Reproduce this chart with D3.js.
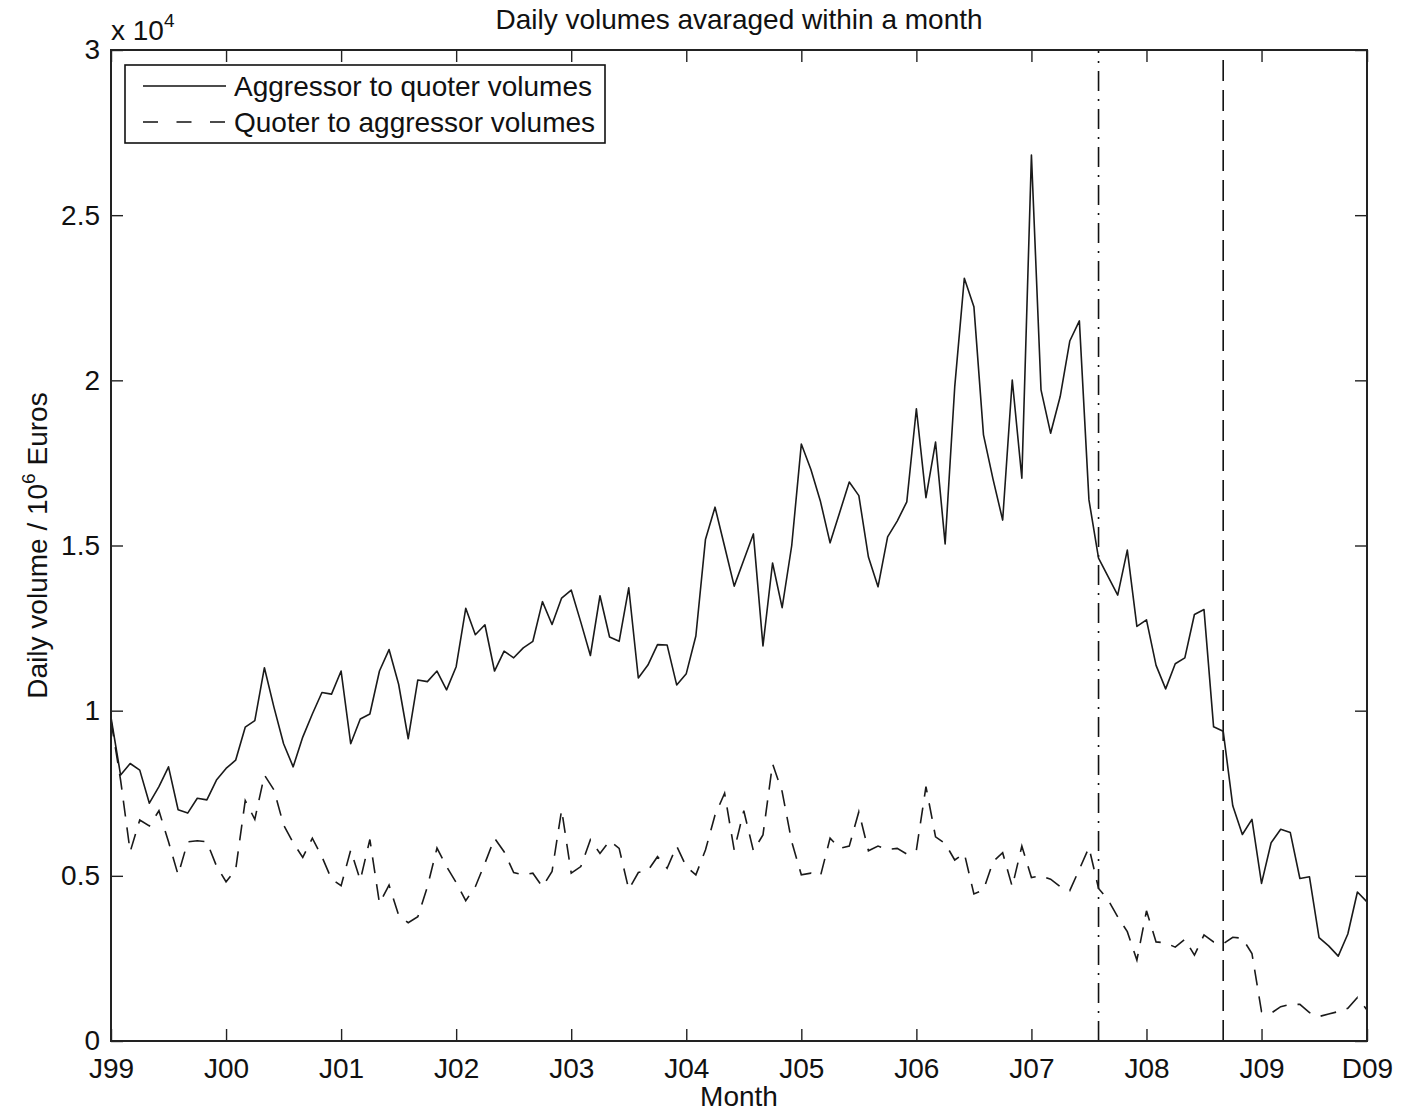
<!DOCTYPE html>
<html>
<head>
<meta charset="utf-8">
<title>Daily volumes averaged within a month</title>
<script src="https://cdn.jsdelivr.net/npm/d3@7"></script>
<style>
	body { margin: 0; background: #fff; }
	svg { font-family: "Liberation Sans", Arial, Helvetica, sans-serif; }
	.axis path { display: none; }
	.axis line { stroke: #222; stroke-width: 1.4; }
	.axis text { font-size: 28px; fill: #111; }
</style>
</head>
<body>
<script>
// month index 0 = Jan 1999 ... 131 = Dec 2009, values in units of 10^4
const seriesNames = ["Aggressor to quoter volumes", "Quoter to aggressor volumes"];

const aggressorToQuoter = [
	0.98, 0.805, 0.84, 0.82, 0.72, 0.77, 0.83, 0.70, 0.69, 0.735, 0.73, 0.79,
	0.825, 0.85, 0.95, 0.97, 1.13, 1.01, 0.90, 0.83, 0.92, 0.99, 1.055, 1.05,
	1.12, 0.90, 0.975, 0.99, 1.12, 1.185, 1.08, 0.915, 1.093, 1.088, 1.12, 1.063,
	1.133, 1.31, 1.23, 1.26, 1.12, 1.18, 1.16, 1.19, 1.21, 1.33, 1.261, 1.341,
	1.365, 1.268, 1.167, 1.348, 1.223, 1.21, 1.372, 1.099, 1.138, 1.20, 1.199, 1.078,
	1.112, 1.226, 1.518, 1.616, 1.497, 1.377, 1.456, 1.535, 1.196, 1.447, 1.312, 1.50,
	1.807, 1.73, 1.633, 1.508, 1.60, 1.692, 1.651, 1.465, 1.375, 1.526, 1.574, 1.632,
	1.914, 1.645, 1.813, 1.505, 1.98, 2.309, 2.223, 1.835, 1.70, 1.577, 2.001, 1.704,
	2.682, 1.971, 1.84, 1.951, 2.119, 2.18, 1.638, 1.462, 1.406, 1.35, 1.486, 1.255,
	1.275, 1.137, 1.066, 1.142, 1.16, 1.291, 1.306, 0.951, 0.938, 0.712, 0.625, 0.671,
	0.477, 0.60, 0.641, 0.631, 0.492, 0.497, 0.313, 0.288, 0.257, 0.324, 0.451, 0.421
];

const quoterToAggressor = [
	0.97, 0.79, 0.573, 0.669, 0.651, 0.697, 0.603, 0.503, 0.603, 0.606, 0.603, 0.53,
	0.482, 0.518, 0.728, 0.671, 0.805, 0.76, 0.654, 0.60, 0.556, 0.614, 0.558, 0.49,
	0.47, 0.578, 0.487, 0.61, 0.417, 0.472, 0.381, 0.358, 0.376, 0.467, 0.584, 0.528,
	0.48, 0.425, 0.467, 0.538, 0.614, 0.573, 0.51, 0.503, 0.508, 0.467, 0.513, 0.70,
	0.508, 0.528, 0.609, 0.568, 0.606, 0.583, 0.459, 0.51, 0.516, 0.558, 0.523, 0.59,
	0.528, 0.503, 0.578, 0.684, 0.75, 0.578, 0.697, 0.576, 0.624, 0.839, 0.755, 0.603,
	0.503, 0.508, 0.50, 0.614, 0.583, 0.59, 0.694, 0.576, 0.59, 0.58, 0.583, 0.566,
	0.578, 0.77, 0.618, 0.598, 0.548, 0.568, 0.445, 0.457, 0.543, 0.57, 0.467, 0.59,
	0.495, 0.50, 0.49, 0.467, 0.455, 0.52, 0.586, 0.462, 0.427, 0.376, 0.331, 0.245,
	0.394, 0.30, 0.297, 0.284, 0.308, 0.26, 0.321, 0.30, 0.294, 0.314, 0.311, 0.265,
	0.089, 0.084, 0.104, 0.111, 0.111, 0.086, 0.074, 0.082, 0.089, 0.099, 0.132, 0.094
];

const xTickMonths = [0, 12, 24, 36, 48, 60, 72, 84, 96, 108, 120, 131];
const xTickLabels = ["J99", "J00", "J01", "J02", "J03", "J04", "J05", "J06", "J07", "J08", "J09", "D09"];
const yTickValues = [0, 0.5, 1, 1.5, 2, 2.5, 3];
const yTickLabels = ["0", "0.5", "1", "1.5", "2", "2.5", "3"];
// Aug 2007 (dash-dot) and Sep 2008 (dashed)
const eventMonths = [103, 116];

const width = 1401, height = 1111;
const plotLeft = 111, plotRight = 1367, plotTop = 50, plotBottom = 1041;
const tickLen = 12;

const svg = d3.select("body")
	.append("svg")
	.attr("width", width)
	.attr("height", height);

const xScale = d3.scaleLinear()
	.domain([0, 131])
	.range([plotLeft, plotRight]);

const yScale = d3.scaleLinear()
	.domain([0, 3])
	.range([plotBottom, plotTop]);

// axes, ticks pointing inward on all four sides
svg.append("g")
	.attr("class", "axis")
	.attr("transform", "translate(0," + plotBottom + ")")
	.call(d3.axisBottom(xScale)
		.tickValues(xTickMonths)
		.tickFormat(function(d, i){ return xTickLabels[i]; })
		.tickSize(-tickLen)
		.tickSizeOuter(0)
		.tickPadding(17));

svg.append("g")
	.attr("class", "axis")
	.attr("transform", "translate(0," + plotTop + ")")
	.call(d3.axisTop(xScale)
		.tickValues(xTickMonths)
		.tickFormat("")
		.tickSize(-tickLen)
		.tickSizeOuter(0));

svg.append("g")
	.attr("class", "axis")
	.attr("transform", "translate(" + plotLeft + ",0)")
	.call(d3.axisLeft(yScale)
		.tickValues(yTickValues)
		.tickFormat(function(d, i){ return yTickLabels[i]; })
		.tickSize(-tickLen)
		.tickSizeOuter(0)
		.tickPadding(11));

svg.append("g")
	.attr("class", "axis")
	.attr("transform", "translate(" + plotRight + ",0)")
	.call(d3.axisRight(yScale)
		.tickValues(yTickValues)
		.tickFormat("")
		.tickSize(-tickLen)
		.tickSizeOuter(0));

// event lines
svg.selectAll("line.event")
	.data(eventMonths)
	.enter()
	.append("line")
	.attr("class", "event")
	.attr("x1", function(d){ return xScale(d); })
	.attr("x2", function(d){ return xScale(d); })
	.attr("y1", yScale(0))
	.attr("y2", yScale(3))
	.attr("stroke", "#111")
	.attr("stroke-width", 1.6)
	.attr("stroke-dasharray", function(d, i){ return i === 0 ? "20,8,2,8" : "21,9"; });

// series
const line = d3.line()
	.x(function(d, i){ return xScale(i); })
	.y(function(d){ return yScale(d); });

svg.append("path")
	.datum(aggressorToQuoter)
	.attr("d", line)
	.attr("fill", "none")
	.attr("stroke", "#1a1a1a")
	.attr("stroke-width", 1.6)
	.attr("stroke-linejoin", "round");

svg.append("path")
	.datum(quoterToAggressor)
	.attr("d", line)
	.attr("fill", "none")
	.attr("stroke", "#1a1a1a")
	.attr("stroke-width", 1.6)
	.attr("stroke-dasharray", "16,11");

// frame
svg.append("rect")
	.attr("x", plotLeft)
	.attr("y", plotTop)
	.attr("width", plotRight - plotLeft)
	.attr("height", plotBottom - plotTop)
	.attr("fill", "none")
	.attr("stroke", "#222")
	.attr("stroke-width", 2);

// legend
const legend = svg.append("g");
legend.append("rect")
	.attr("x", 125)
	.attr("y", 65)
	.attr("width", 480)
	.attr("height", 78)
	.attr("fill", "#fff")
	.attr("stroke", "#111")
	.attr("stroke-width", 1.6);

legend.selectAll("line")
	.data(seriesNames)
	.enter()
	.append("line")
	.attr("x1", 143)
	.attr("x2", 226)
	.attr("y1", function(d, i){ return 86 + i * 36; })
	.attr("y2", function(d, i){ return 86 + i * 36; })
	.attr("stroke", "#111")
	.attr("stroke-width", 1.6)
	.attr("stroke-dasharray", function(d, i){ return i === 0 ? null : "15,18.5"; });

legend.selectAll("text")
	.data(seriesNames)
	.enter()
	.append("text")
	.attr("x", 234)
	.attr("y", function(d, i){ return 96 + i * 36; })
	.attr("font-size", "28px")
	.attr("fill", "#111")
	.text(function(d){ return d; });

// title and labels
svg.append("text")
	.attr("x", (plotLeft + plotRight) / 2)
	.attr("y", 29)
	.attr("text-anchor", "middle")
	.attr("font-size", "28px")
	.attr("fill", "#111")
	.text("Daily volumes avaraged within a month");

const expo = svg.append("text")
	.attr("x", 111)
	.attr("y", 40)
	.attr("font-size", "28px")
	.attr("fill", "#111");
expo.append("tspan").text("x 10");
expo.append("tspan").attr("dy", -13).attr("font-size", "19px").text("4");

svg.append("text")
	.attr("x", (plotLeft + plotRight) / 2)
	.attr("y", 1106)
	.attr("text-anchor", "middle")
	.attr("font-size", "28px")
	.attr("fill", "#111")
	.text("Month");

const ylab = svg.append("text")
	.attr("transform", "translate(47," + ((plotTop + plotBottom) / 2) + ") rotate(-90)")
	.attr("text-anchor", "middle")
	.attr("font-size", "28px")
	.attr("fill", "#111");
ylab.append("tspan").text("Daily volume / 10");
ylab.append("tspan").attr("dy", -12).attr("font-size", "19px").text("6");
ylab.append("tspan").attr("dy", 12).text(" Euros");
</script>
</body>
</html>
